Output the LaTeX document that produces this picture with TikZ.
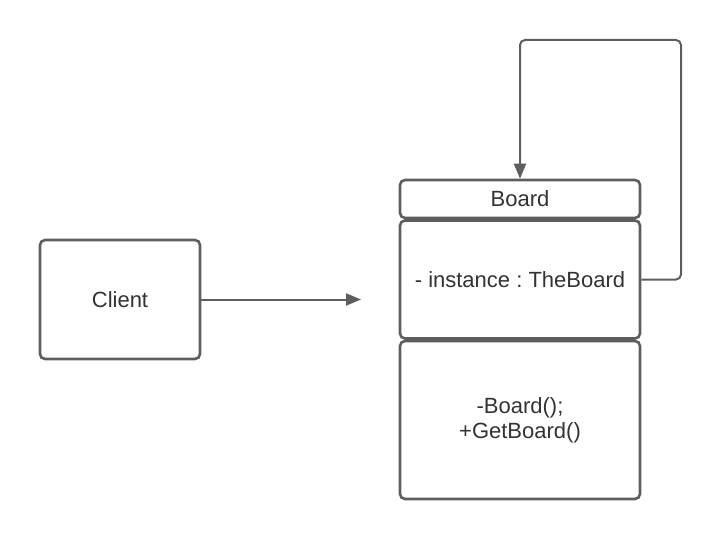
\documentclass[tikz,border=0pt]{standalone}
\usepackage{fontspec}
\setmainfont{Liberation Sans}
\usetikzlibrary{positioning, arrows.meta}

\definecolor{linegray}{HTML}{5E5E5E}
\definecolor{textgray}{HTML}{333333}
\frenchspacing

\tikzset{
    box/.style={draw=linegray, line width=2.6pt, rounded corners=5pt, fill=white,
        minimum width=240pt, inner sep=0pt, text=textgray, align=center,
        font=\fontsize{22}{25}\selectfont},
    flow/.style={draw=linegray, line width=2pt,
        -{Triangle[length=15pt, width=12pt]}}
}

\begin{document}
\begin{tikzpicture}[x=1pt, y=-1pt]
        \useasboundingbox (0,0) rectangle (722,540);

        % client
        \node[box, minimum width=160pt, minimum height=119pt] (client) at (120,299.5) {Client};
        \coordinate (tip) at (361,299.5);

        % the class
        \node[box, minimum height=38pt] (head) at (520,199) {Board};
        \node[box, minimum height=118pt] (attr) at (520,279.5) {- instance : TheBoard};
        \node[box, minimum height=158pt] (ops) at (520,420) {-Board();\\+GetBoard()};

        \coordinate (loopA) at (681,279.5);
        \coordinate (loopB) at (681,40);
        \coordinate (loopC) at (520,40);

        \draw[flow] (client.east) -- (tip);
        \draw[flow, rounded corners=5pt] (attr.east) -- (loopA) -- (loopB) -- (loopC) -- (head.north);

    \end{tikzpicture}
\end{document}
